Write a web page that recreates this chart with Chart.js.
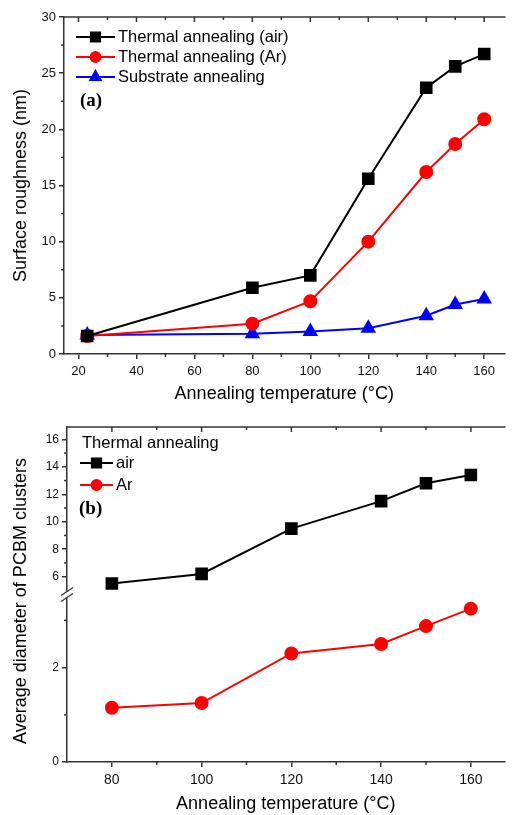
<!DOCTYPE html>
<html>
<head>
<meta charset="utf-8">
<script src="https://cdn.jsdelivr.net/npm/chart.js@4.4.0/dist/chart.umd.min.js"></script>
<style>
    html, body { margin: 0; padding: 0; background: #fff; }
    #contenedor { position: relative; width: 514px; height: 815px; }
    canvas { position: absolute; left: 0; }
    #graficoA { top: 0; }
    #graficoB { top: 405px; }
</style>
</head>
<body>
<div id="contenedor">
    <canvas id="graficoA" width="514" height="405"></canvas>
    <canvas id="graficoB" width="514" height="410"></canvas>
</div>
<script>
// panel (a): rugosidad
const tempA = [23, 80, 100, 120, 140, 150, 160];
const rugAire = [1.6, 5.9, 7.0, 15.6, 23.7, 25.6, 26.7];
const rugArgon = [1.6, 2.7, 4.7, 10.0, 16.2, 18.7, 20.9];
const rugSustrato = [1.7, 1.8, 2.0, 2.3, 3.4, 4.4, 4.9];
const ticksXA = [20, 40, 60, 80, 100, 120, 140, 160];
const ticksYA = [0, 5, 10, 15, 20, 25, 30];

// panel (b): diametro de clusters PCBM
const tempB = [80, 100, 120, 140, 150, 160];
const diamAire = [5.5, 6.2, 9.5, 11.5, 12.8, 13.4];
const diamArgon = [1.15, 1.25, 2.3, 2.5, 2.88, 3.25];
const ticksXB = [80, 100, 120, 140, 160];
const ticksYBArriba = [6, 8, 10, 12, 14, 16];
const ticksYBAbajo = [0, 2];

const GRIS = '#333';
const FUENTE = '"Liberation Sans", Arial, sans-serif';

const puntos = (xs, ys) => xs.map((x, i) => ({ x: x, y: ys[i] }));
const fijarTicks = lista => s => { s.ticks = lista.map(v => ({ value: v })); };

// marco superior, ticks menores, leyenda y etiqueta del panel
const marcoPlugin = {
    id: 'marco',
    afterDraw(chart, args, o) {
        const { ctx, chartArea: a, scales } = chart;
        ctx.save();
        ctx.strokeStyle = GRIS;
        ctx.lineWidth = 1.5;
        ctx.beginPath();
        ctx.moveTo(a.left, a.top);
        ctx.lineTo(a.right + 1, a.top);
        ctx.stroke();

        const x = scales.x;
        o.xTop.forEach(v => {
            const px = x.getPixelForValue(v);
            const largo = o.xMajor.includes(v) ? 5 : 3;
            ctx.beginPath(); ctx.moveTo(px, a.top); ctx.lineTo(px, a.top + largo); ctx.stroke();
            if (!o.xMajor.includes(v)) {
                ctx.beginPath(); ctx.moveTo(px, a.bottom); ctx.lineTo(px, a.bottom + 3); ctx.stroke();
            }
        });
        o.yMenores.forEach(([id, v]) => {
            const py = scales[id].getPixelForValue(v);
            ctx.beginPath(); ctx.moveTo(a.left, py); ctx.lineTo(a.left - 3, py); ctx.stroke();
        });

        // corte del eje
        if (o.corte) {
            const yc = scales[o.corte].bottom;
            ctx.fillStyle = '#fff';
            ctx.fillRect(a.left - 2, yc - 3, 4, 6);
            ctx.lineWidth = 1.3;
            [-3, 3].forEach(d => {
                ctx.beginPath();
                ctx.moveTo(a.left - 6, yc + d + 4);
                ctx.lineTo(a.left + 6, yc + d - 4);
                ctx.stroke();
            });
        }

        // leyenda
        ctx.font = '16.5px ' + FUENTE;
        ctx.textBaseline = 'middle';
        ctx.fillStyle = '#000';
        if (o.titulo) ctx.fillText(o.titulo.texto, o.titulo.x, o.titulo.y);
        o.leyenda.forEach((e, i) => {
            const ds = chart.data.datasets[i];
            const y = e.y;
            ctx.strokeStyle = ds.borderColor;
            ctx.fillStyle = ds.backgroundColor;
            ctx.lineWidth = 2;
            ctx.beginPath(); ctx.moveTo(e.x0, y); ctx.lineTo(e.x1, y); ctx.stroke();
            Chart.helpers.drawPoint(ctx, {
                pointStyle: ds.pointStyle, radius: ds.pointRadius - 1, borderWidth: 1, rotation: 0
            }, (e.x0 + e.x1) / 2, y);
            ctx.fillStyle = '#000';
            ctx.fillText(ds.label, e.x1 + 3, y);
        });

        ctx.font = 'bold 19px "Liberation Serif", "Times New Roman", serif';
        ctx.fillStyle = '#000';
        ctx.fillText(o.panel.texto, o.panel.x, o.panel.y);

        if (o.tituloY) {
            ctx.save();
            ctx.translate(o.tituloY.x, o.tituloY.y);
            ctx.rotate(-Math.PI / 2);
            ctx.textAlign = 'center';
            ctx.font = '18px ' + FUENTE;
            ctx.fillText(o.tituloY.texto, 0, 0);
            ctx.restore();
        }
        ctx.restore();
    }
};

function serie(label, xs, ys, color, estilo, radio, eje) {
    return {
        label: label,
        data: puntos(xs, ys),
        borderColor: color,
        backgroundColor: color,
        pointBackgroundColor: color,
        pointBorderColor: color,
        pointStyle: estilo,
        pointRadius: radio,
        borderWidth: 2,
        tension: 0,
        yAxisID: eje
    };
}

function ejeX(min, max, lista, altura, tamTick) {
    return {
        type: 'linear',
        min: min,
        max: max,
        afterBuildTicks: fijarTicks(lista),
        afterFit: s => { s.height = altura; },
        border: { color: GRIS, width: 1.5 },
        grid: { drawOnChartArea: false, drawTicks: true, tickLength: 5, color: GRIS, lineWidth: 1.5 },
        ticks: { color: '#111', font: { family: FUENTE, size: tamTick }, padding: 5, maxRotation: 0 },
        title: {
            display: true,
            text: 'Annealing temperature (°C)',
            color: '#000',
            font: { family: FUENTE, size: 18 },
            padding: { top: 4, bottom: 0 }
        }
    };
}

function dibujarGraficoA() {
    const ctxA = document.getElementById('graficoA').getContext('2d');
    new Chart(ctxA, {
        type: 'line',
        data: {
            datasets: [
                serie('Thermal annealing (air)', tempA, rugAire, '#000000', 'rect', 7.5, 'y'),
                serie('Thermal annealing (Ar)', tempA, rugArgon, '#ff0000', 'circle', 6, 'y'),
                serie('Substrate annealing', tempA, rugSustrato, '#0000ff', 'triangle', 7, 'y')
            ]
        },
        options: {
            responsive: false,
            animation: false,
            layout: { padding: { top: 17, right: 1, left: 0, bottom: 0 } },
            plugins: {
                legend: { display: false },
                tooltip: { enabled: false },
                marco: {
                    xTop: [20, 30, 40, 50, 60, 70, 80, 90, 100, 110, 120, 130, 140, 150, 160],
                    xMajor: ticksXA,
                    yMenores: [2.5, 7.5, 12.5, 17.5, 22.5, 27.5].map(v => ['y', v]),
                    leyenda: [
                        { x0: 76, x1: 115, y: 37 },
                        { x0: 76, x1: 115, y: 57 },
                        { x0: 76, x1: 115, y: 77 }
                    ],
                    panel: { texto: '(a)', x: 80, y: 101 }
                }
            },
            scales: {
                x: ejeX(15, 167, ticksXA, 51, 13),
                y: {
                    type: 'linear',
                    min: 0,
                    max: 30,
                    afterBuildTicks: fijarTicks(ticksYA),
                    afterFit: s => { s.width = 64; },
                    border: { color: GRIS, width: 1.5 },
                    grid: { drawOnChartArea: false, drawTicks: true, tickLength: 5, color: GRIS, lineWidth: 1.5 },
                    ticks: { color: '#111', font: { family: FUENTE, size: 13 }, padding: 3 },
                    title: {
                        display: true,
                        text: 'Surface roughness (nm)',
                        color: '#000',
                        font: { family: FUENTE, size: 18 },
                        padding: { top: 10, bottom: 0 }
                    }
                }
            }
        },
        plugins: [marcoPlugin]
    });
}

function dibujarGraficoB() {
    const ctxB = document.getElementById('graficoB').getContext('2d');
    const ejeY = (min, max, lista) => ({
        type: 'linear',
        position: 'left',
        stack: 'diametro',
        stackWeight: 1,
        min: min,
        max: max,
        afterBuildTicks: fijarTicks(lista),
        afterFit: s => { s.width = 67; },
        border: { color: GRIS, width: 1.5 },
        grid: { drawOnChartArea: false, drawTicks: true, tickLength: 5, color: GRIS, lineWidth: 1.5 },
        ticks: { color: '#111', font: { family: FUENTE, size: 12 }, padding: 3 }
    });
    new Chart(ctxB, {
        type: 'line',
        data: {
            datasets: [
                serie('air', tempB, diamAire, '#000000', 'rect', 7.5, 'yArriba'),
                serie('Ar', tempB, diamArgon, '#ff0000', 'circle', 6, 'yAbajo')
            ]
        },
        options: {
            responsive: false,
            animation: false,
            layout: { padding: { top: 22, right: 1, left: 0, bottom: 0 } },
            plugins: {
                legend: { display: false },
                tooltip: { enabled: false },
                marco: {
                    xTop: [80, 90, 100, 110, 120, 130, 140, 150, 160],
                    xMajor: ticksXB,
                    yMenores: [['yArriba', 7], ['yArriba', 9], ['yArriba', 11], ['yArriba', 13], ['yArriba', 15],
                               ['yAbajo', 1], ['yAbajo', 3]],
                    corte: 'yArriba',
                    titulo: { texto: 'Thermal annealing', x: 82, y: 38 },
                    leyenda: [
                        { x0: 80, x1: 113, y: 58 },
                        { x0: 80, x1: 113, y: 80 }
                    ],
                    panel: { texto: '(b)', x: 79, y: 104 },
                    tituloY: { texto: 'Average diameter of PCBM clusters', x: 21, y: 196 }
                }
            },
            scales: {
                x: ejeX(70, 167.5, ticksXB, 53, 14),
                yAbajo: ejeY(0, 3.55, ticksYBAbajo),
                yArriba: ejeY(4.7, 16.9, ticksYBArriba)
            }
        },
        plugins: [marcoPlugin]
    });
}

dibujarGraficoA();
dibujarGraficoB();
</script>
</body>
</html>
